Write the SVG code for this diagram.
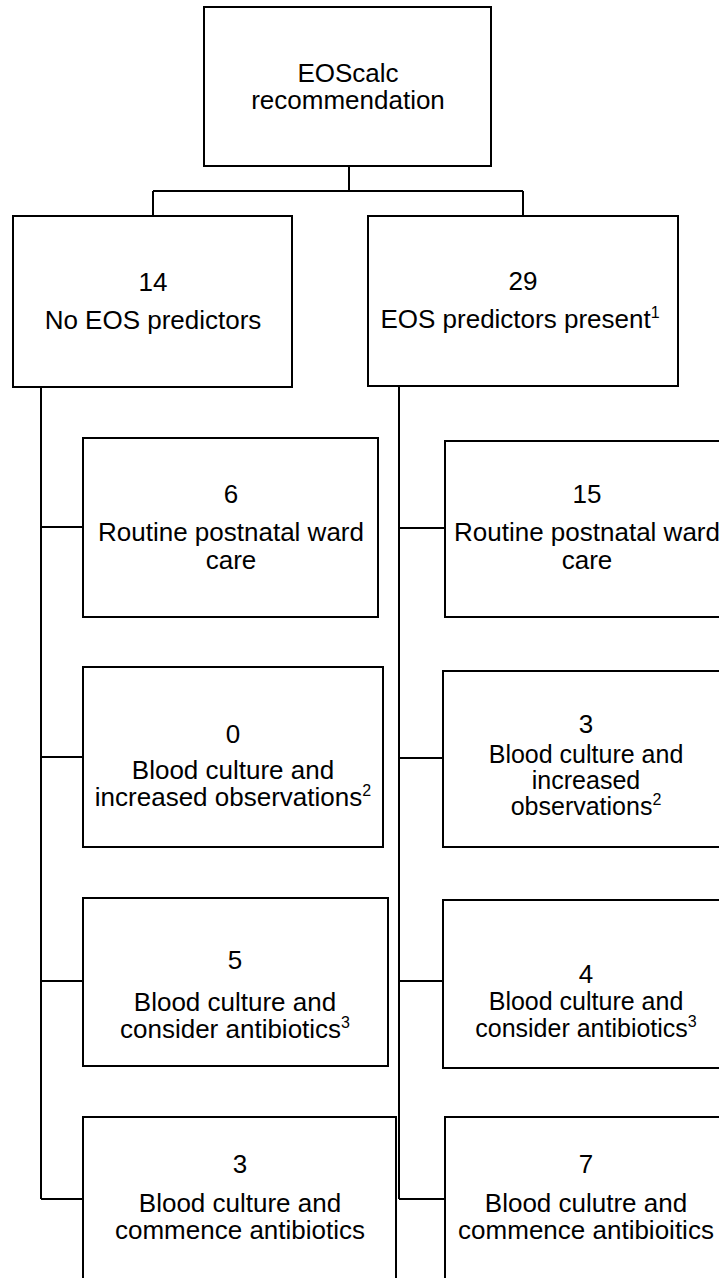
<svg xmlns="http://www.w3.org/2000/svg" width="719" height="1278" viewBox="0 0 719 1278">
<style>
.box{fill:#fff;stroke:#000;stroke-width:2}
.con{fill:none;stroke:#000;stroke-width:2}
text{font-family:"Liberation Sans",Arial,sans-serif;font-size:26px;fill:#000;text-anchor:middle}
.tight{font-size:25px}
.sup{font-size:16px}
</style>
<rect width="719" height="1278" fill="#fff"/>
<g id="connectors">
<path class="con" d="M349 166V191M153 191H523M153 191V216M523 191V216"/>
<path class="con" d="M41 387V1199M41 527H83M41 757H83M41 981H83M41 1199H83"/>
<path class="con" d="M399 386V1199M399 528H445M399 758H443M399 981H443M399 1199H445"/>
</g>
<g id="root">
<rect class="box" x="204" y="7" width="287" height="159"/>
<text x="348" y="82">EOScalc</text>
<text x="348" y="109">recommendation</text>
</g>
<g id="no-predictors">
<rect class="box" x="13" y="216" width="279" height="171"/>
<text x="153" y="291">14</text>
<text x="153" y="329">No EOS predictors</text>
</g>
<g id="predictors-present">
<rect class="box" x="368" y="216" width="310" height="170"/>
<text x="523" y="290">29</text>
<text x="520" y="328">EOS predictors present<tspan class="sup" dy="-10">1</tspan></text>
</g>
<g id="left-routine">
<rect class="box" x="83" y="438" width="295" height="179"/>
<text x="231" y="503">6</text>
<text x="231" y="541">Routine postnatal ward</text>
<text x="231" y="569">care</text>
</g>
<g id="left-observations">
<rect class="box" x="83" y="667" width="300" height="180"/>
<text x="233" y="743">0</text>
<text x="233" y="779">Blood culture and</text>
<text x="233" y="806">increased observations<tspan class="sup" dy="-10">2</tspan></text>
</g>
<g id="left-consider">
<rect class="box" x="83" y="898" width="305" height="168"/>
<text x="235" y="969">5</text>
<text x="235" y="1011">Blood culture and</text>
<text x="235" y="1038">consider antibiotics<tspan class="sup" dy="-10">3</tspan></text>
</g>
<g id="left-commence">
<rect class="box" x="83" y="1117" width="313" height="200"/>
<text x="240" y="1173">3</text>
<text x="240" y="1212">Blood culture and</text>
<text x="240" y="1239">commence antibiotics</text>
</g>
<g id="right-routine">
<rect class="box" x="445" y="441" width="290" height="176"/>
<text x="587" y="503">15</text>
<text x="587" y="541">Routine postnatal ward</text>
<text x="587" y="569">care</text>
</g>
<g id="right-observations">
<rect class="box" x="443" y="671" width="290" height="176"/>
<text x="586" y="733">3</text>
<text class="tight" x="586" y="763">Blood culture and</text>
<text class="tight" x="586" y="789">increased</text>
<text class="tight" x="586" y="815">observations<tspan class="sup" dy="-10">2</tspan></text>
</g>
<g id="right-consider">
<rect class="box" x="443" y="900" width="290" height="168"/>
<text x="586" y="983">4</text>
<text class="tight" x="586" y="1010">Blood culture and</text>
<text class="tight" x="586" y="1037">consider antibiotics<tspan class="sup" dy="-10">3</tspan></text>
</g>
<g id="right-commence">
<rect class="box" x="445" y="1117" width="290" height="200"/>
<text x="586" y="1173">7</text>
<text x="586" y="1212">Blood culutre and</text>
<text x="586" y="1239">commence antibioitics</text>
</g>
</svg>
